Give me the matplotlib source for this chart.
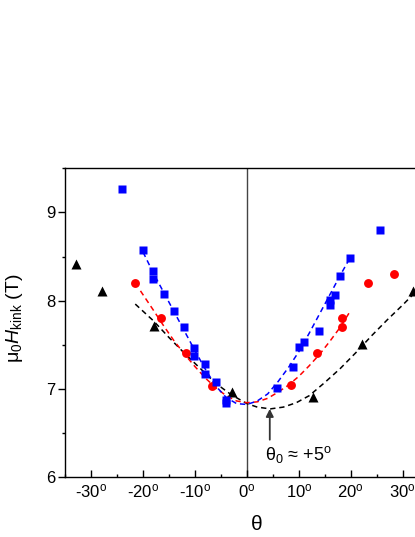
import matplotlib
matplotlib.use('Agg')
import matplotlib.pyplot as plt
from matplotlib.ticker import MultipleLocator

plt.rcParams['font.family'] = ['Liberation Sans', 'DejaVu Sans']
plt.rcParams['mathtext.fontset'] = 'custom'
plt.rcParams['mathtext.rm'] = 'Liberation Sans'
plt.rcParams['mathtext.it'] = 'Liberation Sans:italic'

# measured points (angle in degrees, field in T)
sq_theta = [-24.0, -20.0, -18.0, -18.0, -16.0, -14.1, -12.1, -10.1, -10.1,
            -8.0, -8.0, -6.0, -4.1, -4.1, 5.8, 8.9, 10.0, 11.0, 13.9,
            15.9, 15.9, 17.0, 17.9, 19.9, 25.7]
sq_field = [9.27, 8.57, 8.34, 8.25, 8.08, 7.88, 7.70, 7.46, 7.37,
            7.28, 7.17, 7.07, 6.84, 6.87, 7.01, 7.25, 7.47, 7.53, 7.65,
            7.95, 8.01, 8.06, 8.28, 8.48, 8.80]

circ_theta = [-21.6, -16.6, -11.7, -6.7, 8.4, 13.5, 18.4, 18.4, 23.4, 28.4]
circ_field = [8.20, 7.80, 7.40, 7.03, 7.04, 7.40, 7.70, 7.80, 8.20, 8.30]

tri_theta = [-32.9, -27.9, -17.8, -2.8, 12.7, 22.1, 31.9]
tri_field = [8.41, 8.11, 7.71, 6.96, 6.91, 7.51, 8.11]

# fitted curves
fit_blue_x = [-20, -18, -16, -14, -12, -10, -8, -6, -4, -2, 0, 2, 4, 6, 8,
              10, 12, 14, 16, 18, 20]
fit_blue_y = [8.55, 8.31, 8.09, 7.87, 7.65, 7.43, 7.22, 7.03, 6.90, 6.83,
              6.82, 6.86, 6.94, 7.08, 7.24, 7.42, 7.63, 7.85, 8.07, 8.29, 8.50]

fit_red_x = [-20.5, -18, -16, -14, -12, -10, -8, -6, -4, -2, 0, 2, 4, 6, 8,
             10, 12, 14, 16, 18, 20]
fit_red_y = [8.11, 7.89, 7.71, 7.54, 7.39, 7.25, 7.12, 7.01, 6.92, 6.86,
             6.84, 6.85, 6.89, 6.96, 7.04, 7.14, 7.26, 7.39, 7.54, 7.70, 7.89]

fit_black_x = [-21.5, -18, -15, -12, -9, -6, -3, 0, 2, 4.5, 7, 9.5, 12, 15,
               18, 21, 24, 27, 30, 33, 35]
fit_black_y = [7.96, 7.77, 7.58, 7.40, 7.23, 7.06, 6.93, 6.83, 6.79, 6.77,
               6.79, 6.84, 6.92, 7.07, 7.23, 7.41, 7.60, 7.78, 7.95, 8.13, 8.24]

xticks = [-30, -20, -10, 0, 10, 20, 30]
yticks = [6, 7, 8, 9]

fig = plt.figure(figsize=(4.15, 5.37), dpi=100)
ax = fig.add_axes([0.157, 0.1123, 0.876, 0.574])

ax.axvline(0, color='#444444', lw=1.0, zorder=1)

dash = (0, (3.5, 2.5))
ax.plot(fit_black_x, fit_black_y, color='black', lw=1.1, linestyle=dash, zorder=2)
ax.plot(fit_red_x, fit_red_y, color='red', lw=1.1, linestyle=dash, zorder=2)
ax.plot(fit_blue_x, fit_blue_y, color='blue', lw=1.1, linestyle=dash, zorder=2)

ax.plot(tri_theta, tri_field, '^', color='black', ms=7.2, mec='none', zorder=3)
ax.plot(circ_theta, circ_field, 'o', color='red', ms=6.4, mec='none', zorder=3)
ax.plot(sq_theta, sq_field, 's', color='blue', ms=5.8, mec='none', zorder=4)

ax.annotate('', xy=(4.4, 6.77), xytext=(4.4, 6.42),
            arrowprops=dict(arrowstyle='-|>', color='#333333', lw=1.3,
                            mutation_scale=11, shrinkA=0, shrinkB=0))
ax.text(10.0, 6.25, r'θ$_0$ ≈ +5$^{\rm o}$', fontsize=13, ha='center', va='center')

ax.set_xlim(-35, 35)
ax.set_ylim(6, 9.5)
ax.set_xticks(xticks)
ax.set_xticklabels(['%d$^{\\rm o}$' % t if t >= 0 else '-%d$^{\\rm o}$' % -t
                    for t in xticks])
ax.set_yticks(yticks)
ax.xaxis.set_minor_locator(MultipleLocator(5))
ax.yaxis.set_minor_locator(MultipleLocator(0.5))
ax.tick_params(axis='x', which='both', direction='in', top=False,
               labelsize=12, pad=4)
ax.tick_params(axis='x', which='major', length=5, width=1)
ax.tick_params(axis='x', which='minor', length=2.5, width=1)
ax.tick_params(axis='y', which='both', direction='out', right=False,
               labelsize=12, pad=2)
ax.tick_params(axis='y', which='major', length=5, width=1)
ax.tick_params(axis='y', which='minor', length=2.5, width=1)
for s in ax.spines.values():
    s.set_linewidth(1.0)

ax.set_xlabel('θ', fontsize=15)
ax.xaxis.set_label_coords(0.527, -0.124)
ax.set_ylabel(r'μ$_0H_{\rm kink}$ (T)', fontsize=14)
ax.yaxis.set_label_coords(-0.111, 0.515)

fig.savefig('out.png', dpi=100)
